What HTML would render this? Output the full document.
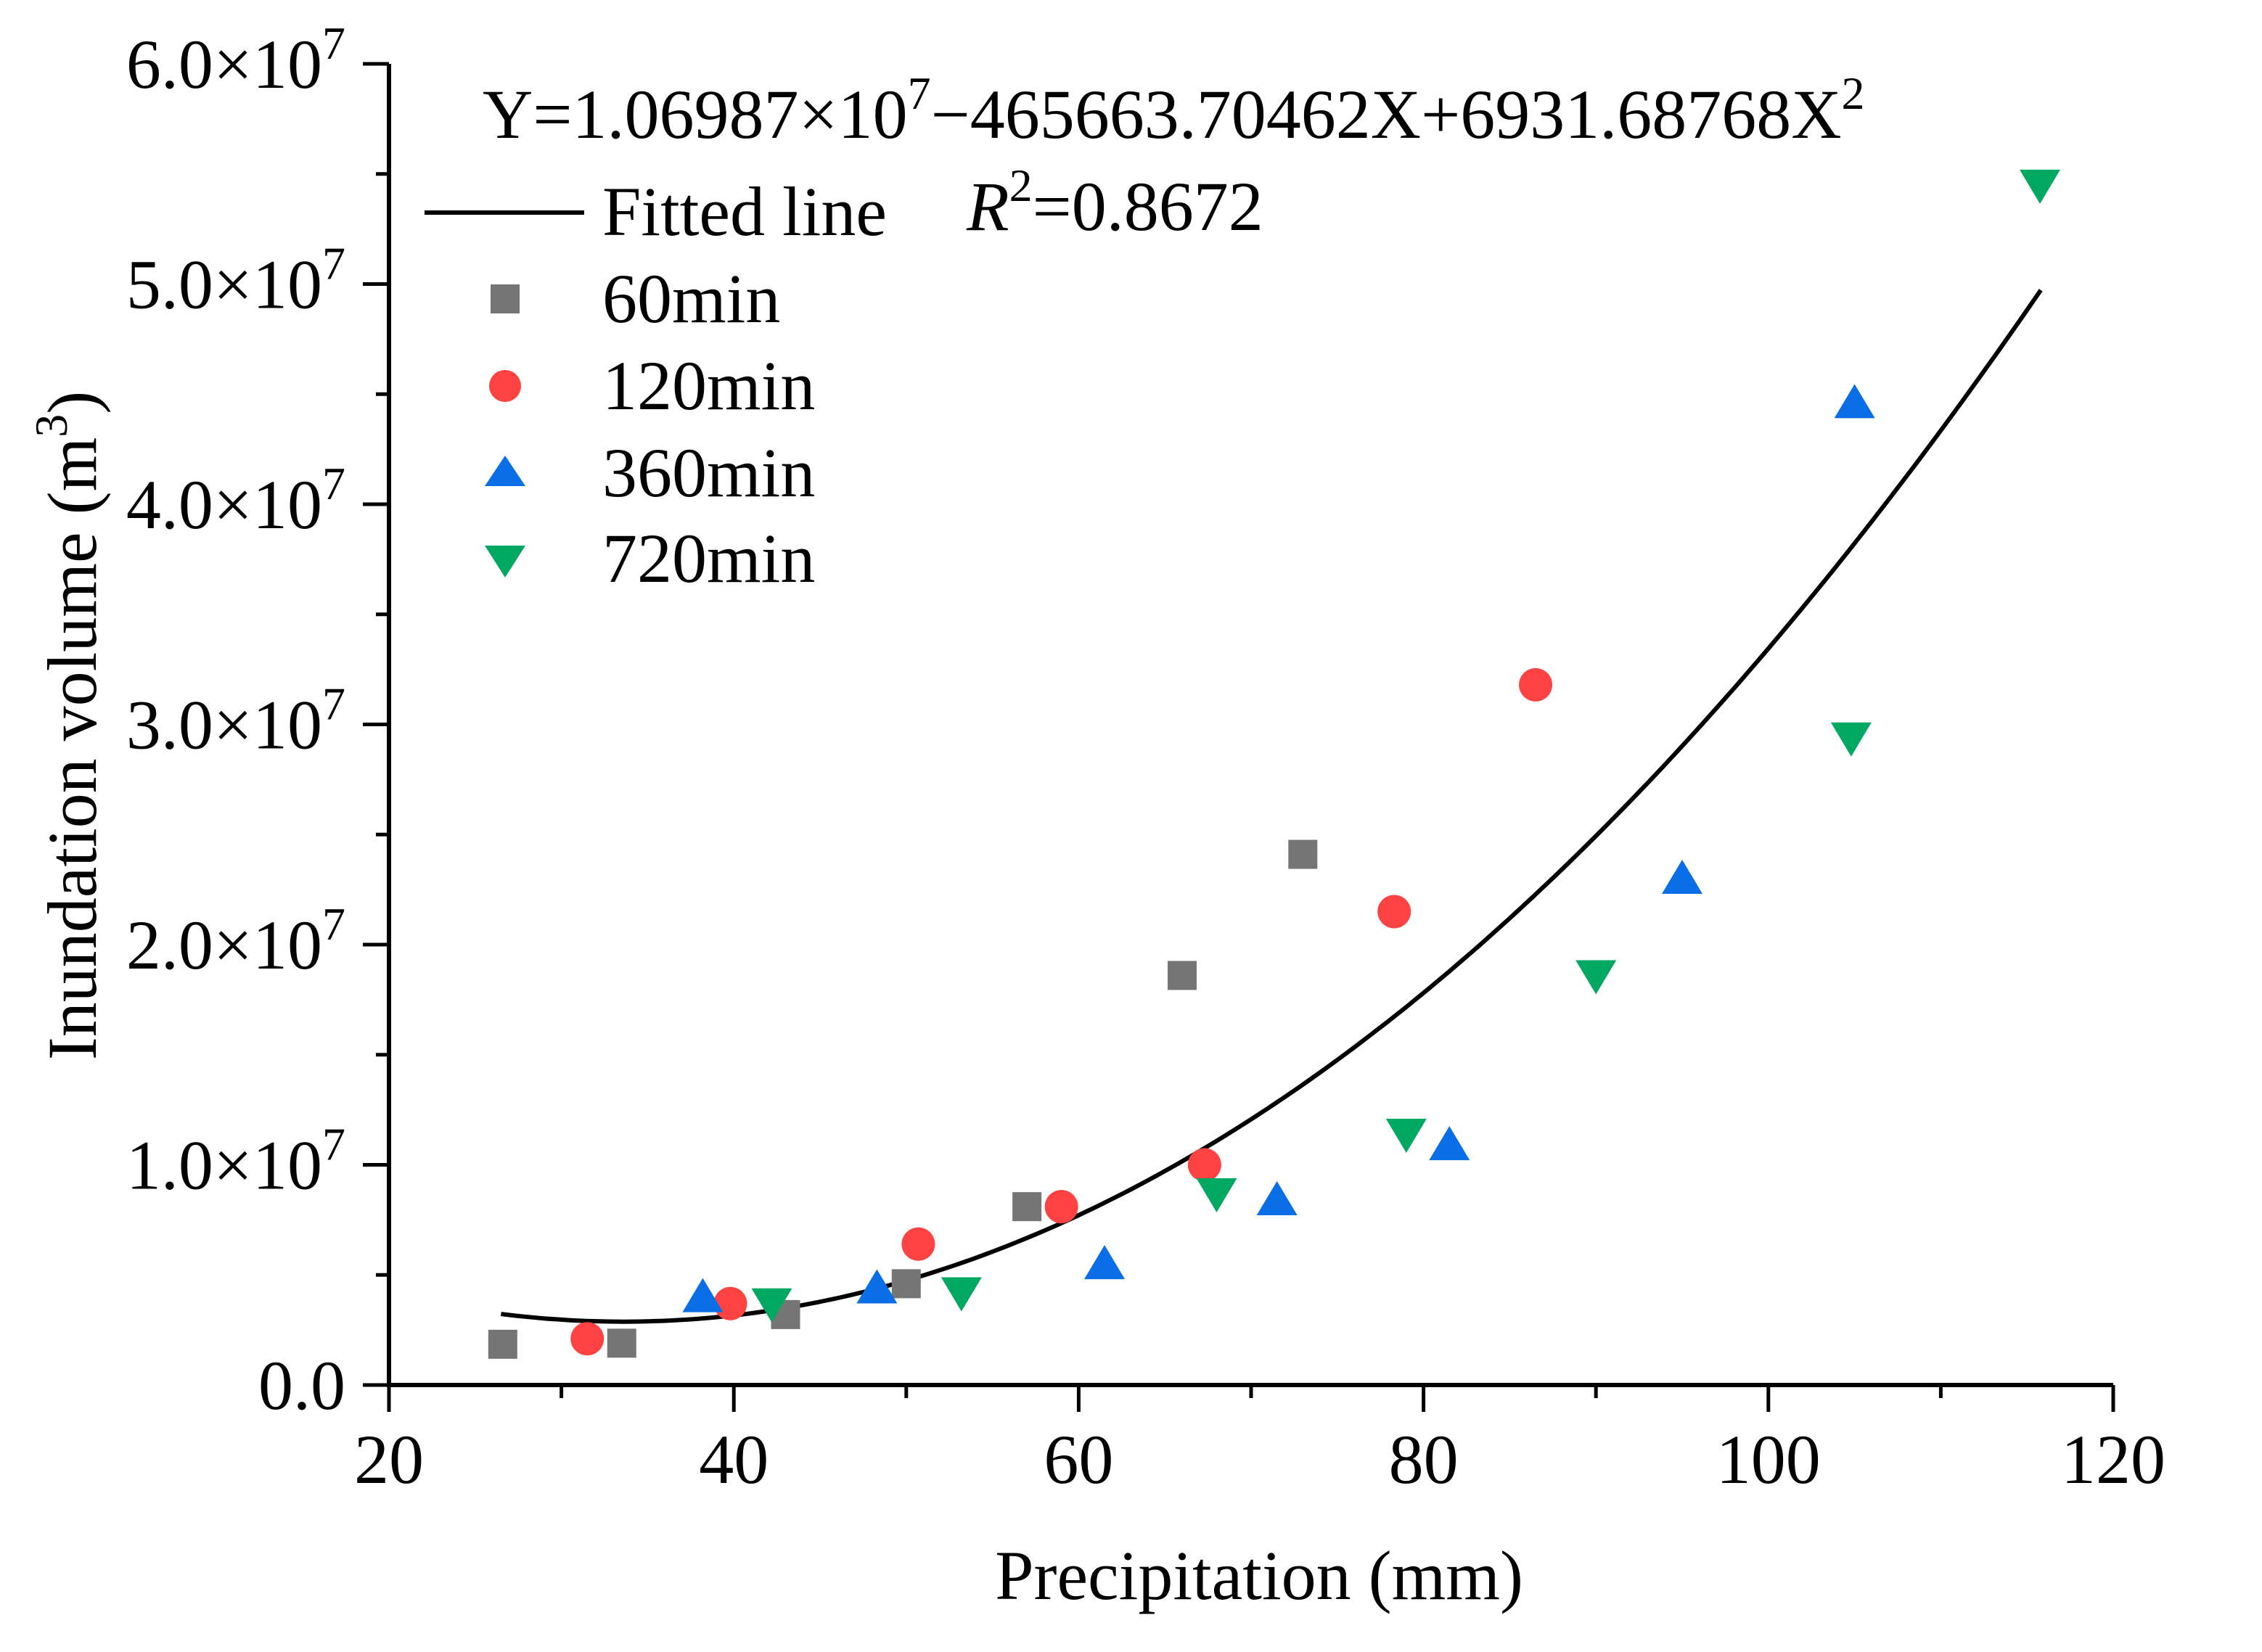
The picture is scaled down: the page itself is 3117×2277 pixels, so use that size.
<!DOCTYPE html>
<html><head><meta charset="utf-8"><style>
html,body{margin:0;padding:0;background:#fff;}
svg{display:block;font-family:"Liberation Serif",serif;}
</style></head><body>
<svg id="chart" width="3117" height="2277" viewBox="0 0 3117 2277" xmlns="http://www.w3.org/2000/svg">
<g id="axes"></g>
<g id="fit"></g>
<g id="marks"></g>
<text x="665" y="190" font-size="96">Y=1.06987×10<tspan dy="-40" font-size="64">7</tspan><tspan dy="40">−465663.70462X+6931.68768X</tspan><tspan dy="-40" font-size="64">2</tspan></text>
<text x="1332" y="317" font-size="96"><tspan font-style="italic">R</tspan><tspan dy="-40" font-size="64">2</tspan><tspan dy="40">=0.8672</tspan></text>
<g id="legend">
<line x1="585" y1="293" x2="805" y2="293" stroke="#000" stroke-width="6"/>
<text x="830" y="324" font-size="96">Fitted line</text>
<rect x="676" y="392" width="40" height="40" fill="#757575"/>
<text x="830" y="444" font-size="96">60min</text>
<circle cx="696" cy="532" r="22" fill="#ff4242"/>
<text x="830" y="564" font-size="96">120min</text>
<polygon points="696,628 724,670 668,670" fill="#0a6ee6"/>
<text x="830" y="684" font-size="96">360min</text>
<polygon points="668,752 724,752 696,796" fill="#00a862"/>
<text x="830" y="802" font-size="96">720min</text>
</g>
<text x="1735" y="2204" font-size="96" text-anchor="middle">Precipitation (mm)</text>
<text transform="translate(132,1000) rotate(-90)" font-size="96" text-anchor="middle">Inundation volume (m<tspan dy="-40" font-size="64">3</tspan><tspan dy="40">)</tspan></text>
</svg>
<script>
const xTicks = [20, 40, 60, 80, 100, 120];
const xMinor = [30, 50, 70, 90, 110];
const yTicks = [0, 1, 2, 3, 4, 5, 6];
const yTickLabels = ["0.0", "1.0", "2.0", "3.0", "4.0", "5.0", "6.0"];
const fitCoef = [1.06987e7, -465663.70462, 6931.68768];
const fitRange = [26.5, 115.8];
const x60 = [26.6, 33.5, 43, 50, 57, 66, 73];
const y60 = [1.85e6, 1.9e6, 3.2e6, 4.6e6, 8.1e6, 1.86e7, 2.41e7];
const x120 = [31.5, 39.8, 50.7, 59, 67.3, 78.3, 86.5];
const y120 = [2.1e6, 3.7e6, 6.4e6, 8.1e6, 1.0e7, 2.15e7, 3.18e7];
const x360 = [38.2, 48.3, 61.5, 71.5, 81.5, 95, 105];
const y360 = [4.0e6, 4.4e6, 5.5e6, 8.4e6, 1.09e7, 2.3e7, 4.46e7];
const x720 = [42.2, 53.2, 68, 79, 90, 104.8, 115.75];
const y720 = [3.7e6, 4.2e6, 8.7e6, 1.14e7, 1.86e7, 2.94e7, 5.45e7];

const NS = "http://www.w3.org/2000/svg";
const X0 = 536, X1 = 2912, Y0 = 1909, YTOP = 88;
function sx(v){ return X0 + (v - 20) / 100 * (X1 - X0); }
function sy(v){ return Y0 - v / 6e7 * (Y0 - YTOP); }
function mk(tag, attrs, parent){
  const e = document.createElementNS(NS, tag);
  for (const k in attrs) e.setAttribute(k, attrs[k]);
  parent.appendChild(e);
  return e;
}
const axes = document.getElementById('axes');
let el;
el = mk('line', {x1:X0, y1:Y0+3, x2:X0, y2:YTOP, stroke:'#000', 'stroke-width':6}, axes);


el = mk('line', {x1:X0-3, y1:Y0, x2:X1, y2:Y0, stroke:'#000', 'stroke-width':6}, axes);


xTicks.forEach(function(t){
  const x = sx(t);
  let e = mk('line', {x1:x, y1:Y0, x2:x, y2:Y0+37, stroke:'#000', 'stroke-width':5}, axes);
  
  
  e = mk('text', {x:x, y:2044, 'font-size':96, 'text-anchor':'middle'}, axes);
  e.textContent = String(t);
  
  
});
xMinor.forEach(function(t){
  const x = sx(t);
  const e = mk('line', {x1:x, y1:Y0, x2:x, y2:Y0+18, stroke:'#000', 'stroke-width':5}, axes);
  
  
});
yTicks.forEach(function(t, i){
  const y = sy(t * 1e7);
  let e = mk('line', {x1:X0-36, y1:y, x2:X0, y2:y, stroke:'#000', 'stroke-width':5}, axes);
  
  
  if (i < yTicks.length - 1) {
    const ym = sy((t + 0.5) * 1e7);
    e = mk('line', {x1:X0-18, y1:ym, x2:X0, y2:ym, stroke:'#000', 'stroke-width':5}, axes);
    
    
  }
  e = mk('text', {x:476, y:y+33, 'font-size':96, 'text-anchor':'end'}, axes);
  
  
  if (t === 0) { e.textContent = yTickLabels[i]; }
  else {
    e.textContent = yTickLabels[i] + '×10';
    const s = mk('tspan', {dy:-40, 'font-size':64}, e);
    s.textContent = '7';
  }
});
const fit = document.getElementById('fit');
let d = '';
for (let i = 0; i <= 200; i++) {
  const x = fitRange[0] + (fitRange[1] - fitRange[0]) * i / 200;
  const y = fitCoef[0] + fitCoef[1] * x + fitCoef[2] * x * x;
  d += (i ? 'L' : 'M') + sx(x).toFixed(1) + ',' + sy(y).toFixed(1);
}
el = mk('path', {d:d, fill:'none', stroke:'#000', 'stroke-width':6}, fit);


const marks = document.getElementById('marks');
x60.forEach(function(v, i){
  const cx = sx(v), cy = sy(y60[i]);
  const e = mk('rect', {x:cx-20, y:cy-20, width:40, height:40, fill:'#757575'}, marks);
  
  
});
x120.forEach(function(v, i){
  const e = mk('circle', {cx:sx(v), cy:sy(y120[i]), r:23, fill:'#ff4242'}, marks);
  
  
});
x360.forEach(function(v, i){
  const cx = sx(v), cy = sy(y360[i]);
  const e = mk('polygon', {points:(cx)+','+(cy-26)+' '+(cx+28)+','+(cy+21)+' '+(cx-28)+','+(cy+21), fill:'#0a6ee6'}, marks);
  
  
});
x720.forEach(function(v, i){
  const cx = sx(v), cy = sy(y720[i]);
  const e = mk('polygon', {points:(cx-28)+','+(cy-21)+' '+(cx+28)+','+(cy-21)+' '+(cx)+','+(cy+26), fill:'#00a862'}, marks);
  
  
});
</script>
</body></html>
